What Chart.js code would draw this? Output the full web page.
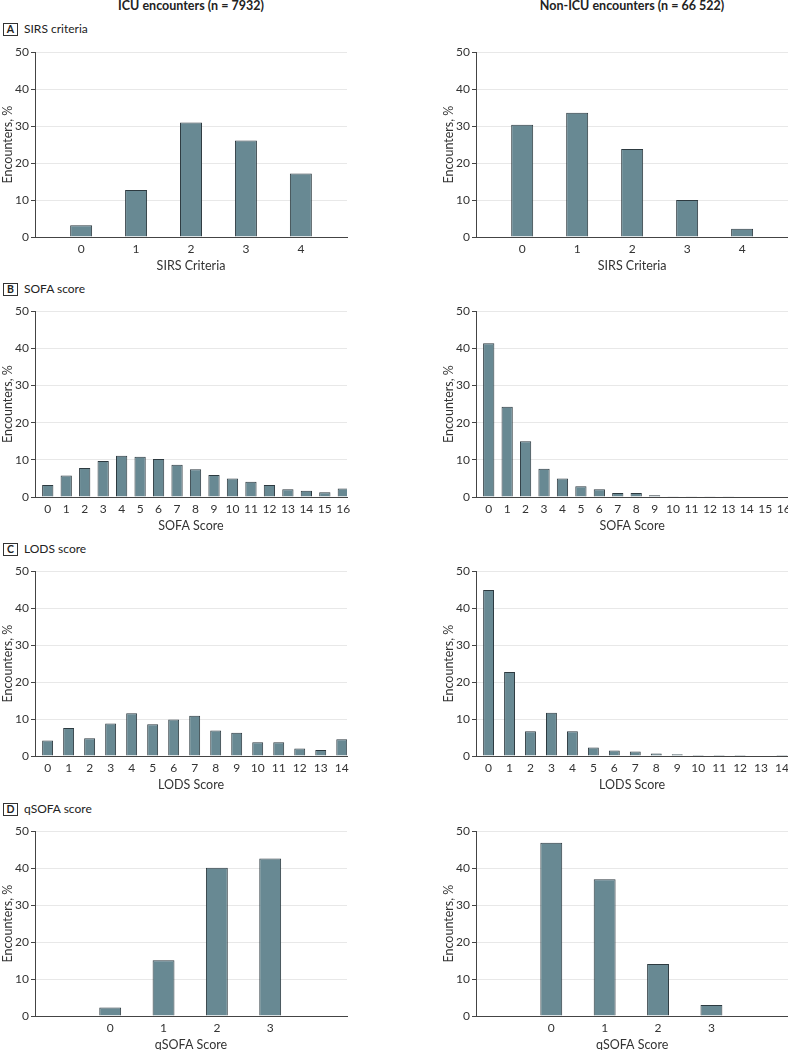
<!DOCTYPE html>
<html>
<head>
<meta charset="utf-8">
<script src="https://cdn.jsdelivr.net/npm/chart.js@4.4.0/dist/chart.umd.min.js"></script>
<style>
    html, body { margin: 0; padding: 0; background: #fff; overflow: hidden; }
    body { width: 788px; height: 1050px; position: relative; font-family: Lato, 'Open Sans', sans-serif; color: #222; }
    .head { position: absolute; top: -2px; font-size: 12.5px; font-weight: bold; text-align: center; width: 320px; }
    .panel { position: absolute; left: 3px; font-size: 12px; height: 13px; line-height: 13px; }
    .panel b { display: inline-block; width: 13px; height: 11px; line-height: 11px; border: 1px solid #333; text-align: center; font-size: 10.5px; margin-right: 6px; }
    .box { position: absolute; width: 360px; }
</style>
</head>
<body>
<div class="head" style="left:31px">ICU encounters (n = 7932)</div>
<div class="head" style="left:472px">Non-ICU encounters (n = 66 522)</div>

<div class="panel" style="top:22px"><b>A</b>SIRS criteria</div>
<div class="panel" style="top:282px"><b>B</b>SOFA score</div>
<div class="panel" style="top:542px"><b>C</b>LODS score</div>
<div class="panel" style="top:802px"><b>D</b>qSOFA score</div>

<div class="box" style="left:0;top:42.7px;height:234px"><canvas id="icuSirs"></canvas></div>
<div class="box" style="left:440.7px;top:42.7px;height:234px"><canvas id="nonIcuSirs"></canvas></div>
<div class="box" style="left:0;top:302px;height:235px"><canvas id="icuSofa"></canvas></div>
<div class="box" style="left:440.7px;top:302px;height:235px"><canvas id="nonIcuSofa"></canvas></div>
<div class="box" style="left:0;top:561.8px;height:234px"><canvas id="icuLods"></canvas></div>
<div class="box" style="left:440.7px;top:561.8px;height:234px"><canvas id="nonIcuLods"></canvas></div>
<div class="box" style="left:0;top:821.7px;height:234px"><canvas id="icuQsofa"></canvas></div>
<div class="box" style="left:440.7px;top:821.7px;height:234px"><canvas id="nonIcuQsofa"></canvas></div>

<script>
    const sirsLabels = [0, 1, 2, 3, 4];
    const icuSirs = [3.2, 12.7, 31.0, 26.1, 17.2];
    const nonIcuSirs = [30.4, 33.6, 23.8, 10.0, 2.2];

    const sofaLabels = [0, 1, 2, 3, 4, 5, 6, 7, 8, 9, 10, 11, 12, 13, 14, 15, 16];
    const icuSofa = [3.2, 5.8, 7.8, 9.7, 11.1, 10.8, 10.2, 8.7, 7.5, 5.9, 5.0, 4.1, 3.2, 2.1, 1.7, 1.3, 2.3];
    const nonIcuSofa = [41.4, 24.3, 15.0, 7.6, 5.0, 2.9, 2.1, 1.1, 1.1, 0.45, 0.2, 0.2, 0.2, 0.2, 0, 0, 0];

    const lodsLabels = [0, 1, 2, 3, 4, 5, 6, 7, 8, 9, 10, 11, 12, 13, 14];
    const icuLods = [4.2, 7.6, 4.8, 8.8, 11.6, 8.6, 9.9, 10.9, 6.9, 6.3, 3.7, 3.7, 2.0, 1.6, 4.5];
    const nonIcuLods = [44.9, 22.7, 6.7, 11.7, 6.7, 2.3, 1.5, 1.2, 0.7, 0.5, 0.3, 0.3, 0.3, 0, 0.3];

    const qsofaLabels = [0, 1, 2, 3];
    const icuQsofa = [2.3, 15.1, 40.1, 42.6];
    const nonIcuQsofa = [46.9, 37.0, 14.1, 3.0];

    const yTicks = [0, 10, 20, 30, 40, 50];

    const fontFamily = "Lato, 'Open Sans', sans-serif";
    const barFill = '#688993';
    const barEdge = '#2d3a40';

    function drawPanel(id, labels, values, xMin, xMax, ratio, xTitle, padRight) {
        const ctx = document.getElementById(id).getContext('2d');
        new Chart(ctx, {
            type: 'bar',
            data: {
                datasets: [{
                    data: labels.map((v, i) => ({ x: v, y: values[i] })),
                    backgroundColor: barFill,
                    borderColor: barEdge,
                    borderWidth: 1,
                    borderSkipped: 'bottom',
                    barPercentage: ratio,
                    categoryPercentage: 1
                }]
            },
            options: {
                responsive: true,
                maintainAspectRatio: false,
                animation: false,
                layout: { padding: { top: 8, right: padRight, left: 0, bottom: 0 } },
                plugins: { legend: { display: false }, tooltip: { enabled: false } },
                scales: {
                    x: {
                        type: 'linear',
                        offset: false,
                        min: xMin,
                        max: xMax,
                        afterBuildTicks: scale => { scale.ticks = labels.map(v => ({ value: v })); },
                        afterFit: scale => { scale.height = 40; },
                        grid: { display: false, drawTicks: false },
                        border: { display: true, color: '#444', width: 1 },
                        ticks: {
                            padding: 5,
                            autoSkip: false,
                            maxRotation: 0,
                            color: '#333',
                            font: { family: fontFamily, size: 12 },
                            callback: v => v
                        },
                        title: {
                            display: true,
                            text: xTitle,
                            color: '#333',
                            padding: { top: 2, bottom: 4 },
                            font: { family: fontFamily, size: 12.5 }
                        }
                    },
                    y: {
                        min: 0,
                        max: 50,
                        afterBuildTicks: scale => { scale.ticks = yTicks.map(v => ({ value: v })); },
                        afterFit: scale => { scale.width = 35; },
                        grid: { color: '#e8e8e8', tickColor: '#444', tickLength: 4, lineWidth: 1 },
                        border: { display: true, color: '#444', width: 1 },
                        ticks: {
                            padding: 2,
                            color: '#333',
                            font: { family: fontFamily, size: 12 }
                        },
                        title: {
                            display: true,
                            text: 'Encounters, %',
                            color: '#333',
                            padding: { top: 0, bottom: 2 },
                            font: { family: fontFamily, size: 12.5 }
                        }
                    }
                }
            }
        });
    }

    drawPanel('icuSirs', sirsLabels, icuSirs, -0.84, 4.84, 0.4, 'SIRS Criteria', 13);
    drawPanel('nonIcuSirs', sirsLabels, nonIcuSirs, -0.84, 4.84, 0.4, 'SIRS Criteria', 12.7);
    drawPanel('icuSofa', sofaLabels, icuSofa, -0.69, 16.2, 0.61, 'SOFA Score', 13);
    drawPanel('nonIcuSofa', sofaLabels, nonIcuSofa, -0.69, 16.25, 0.61, 'SOFA Score', 12.7);
    drawPanel('icuLods', lodsLabels, icuLods, -0.6, 14.25, 0.52, 'LODS Score', 13);
    drawPanel('nonIcuLods', lodsLabels, nonIcuLods, -0.6, 14.3, 0.52, 'LODS Score', 12.7);
    drawPanel('icuQsofa', qsofaLabels, icuQsofa, -1.41, 4.44, 0.41, 'qSOFA Score', 13);
    drawPanel('nonIcuQsofa', qsofaLabels, nonIcuQsofa, -1.41, 4.44, 0.41, 'qSOFA Score', 12.7);
</script>
</body>
</html>
